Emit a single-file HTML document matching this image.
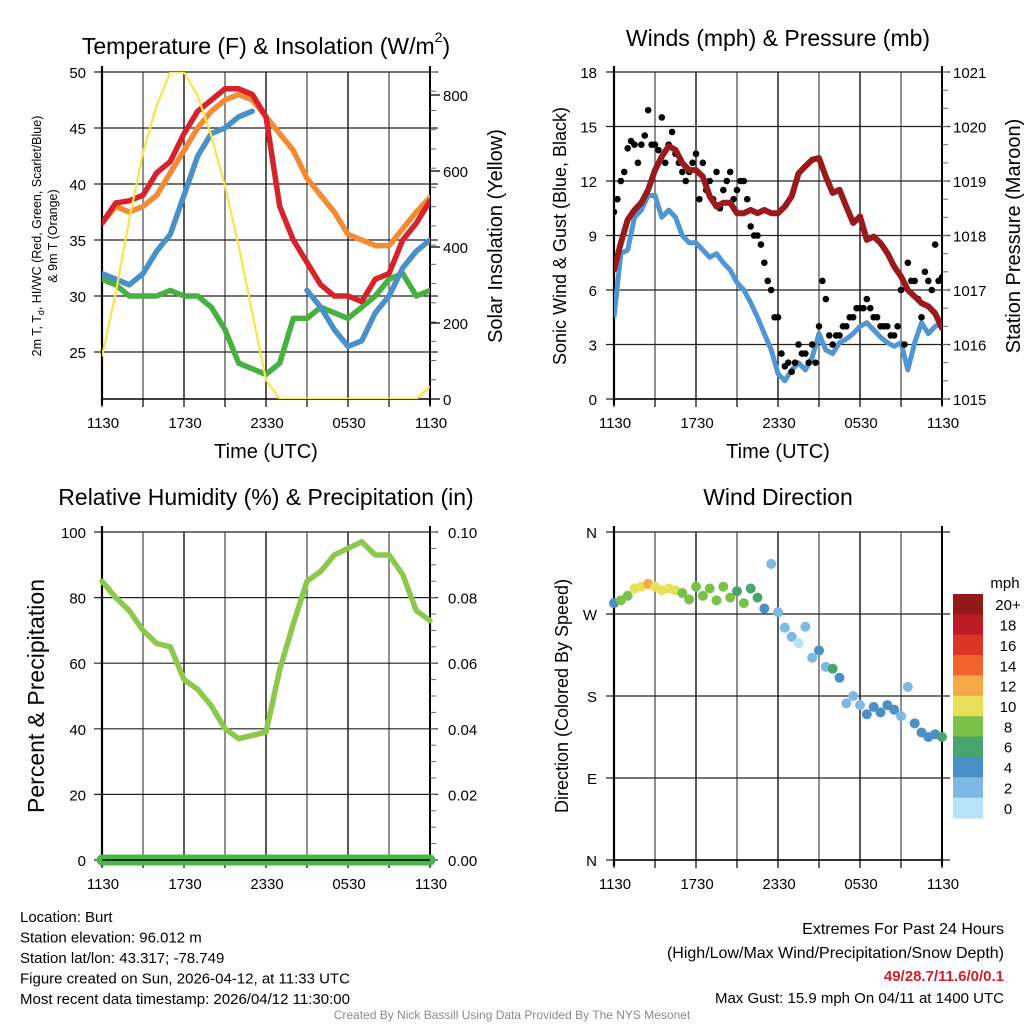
<!DOCTYPE html>
<html><head><meta charset="utf-8"><style>
html,body{margin:0;padding:0;background:#fff;}
svg{display:block;font-family:"Liberation Sans",sans-serif;}
</style></head><body>
<svg id="c" width="1024" height="1024" viewBox="0 0 1024 1024" xmlns="http://www.w3.org/2000/svg"></svg>
<script>
// ---------- data ----------
const hours = [0,1,2,3,4,5,6,7,8,9,10,11,12,13,14,15,16,17,18,19,20,21,22,23,24];
const xTickLabels = ["1130","1730","2330","0530","1130"];
const tempRed = [36.5,38.3,38.5,39,41,42,44.5,46.5,47.5,48.5,48.5,48,46,38,35,33,31,30,30,29.5,31.5,32,35,36.5,38.5];
const temp9mOrange = [36.5,38,37.5,38,39,41,43,45,46.5,47.5,48,47.5,46,44.5,43,40.5,39,37.5,35.5,35,34.5,34.5,36,37.5,38.8];
const windChillBlue = [32,31.5,31,32,34,35.5,39,42.5,44.5,45,46,46.5,null,null,null,30.5,29,27,25.5,26,28.5,30,32.5,34,35];
const dewGreen = [31.5,31,30,30,30,30.5,30,30,29,27,24,23.5,23,24,28,28,29,28.5,28,29,30,31.5,32,30,30.5];
const solar = [112,279,473,649,772,860,860,798,693,561,402,226,50,0,0,0,0,0,0,0,0,0,0,0,33];
const tempTicks = [25,30,35,40,45,50];
const solarTicks = [0,200,400,600,800];

const halfHours = [0,0.5,1,1.5,2,2.5,3,3.5,4,4.5,5,5.5,6,6.5,7,7.5,8,8.5,9,9.5,10,10.5,11,11.5,12,12.5,13,13.5,14,14.5,15,15.5,16,16.5,17,17.5,18,18.5,19,19.5,20,20.5,21,21.5,22,22.5,23,23.5,24];
const windSpeed = [4.5,8,8.2,10,10.4,11.2,11.2,10,10.4,10,9,8.6,8.6,8.2,7.8,8,7.5,7.1,6.4,6,5.3,4.5,3.6,2.7,1.4,1,1.6,2,1.6,2.3,3.6,2.7,2.5,3.1,3.3,3.6,4,4.2,3.8,3.4,3.1,2.9,3.1,1.6,3.1,4.2,3.6,4,4.2];
const pressure = [1017.37,1017.86,1018.29,1018.47,1018.6,1018.84,1019.2,1019.45,1019.64,1019.57,1019.33,1019.2,1019.2,1019.08,1018.72,1018.53,1018.6,1018.6,1018.41,1018.41,1018.47,1018.41,1018.47,1018.41,1018.41,1018.53,1018.72,1019.14,1019.27,1019.39,1019.42,1019.08,1018.78,1018.84,1018.53,1018.23,1018.35,1017.92,1017.98,1017.86,1017.68,1017.43,1017.25,1017.0,1016.88,1016.76,1016.7,1016.57,1016.3];
const gust = [10.3,11,12,12.5, 13.8,14.2,14,13, 14,14.5,15.9,14, 14,13.7,15.5,13, 14,14.7,13.5,13, 12.5,12,12.5,13, 13.5,11,13,11.5, 12,11,12.5,10.5, 11.5,12,12.5,11, 11.5,12,12,11, 9.5,9,9,8.5, 7.5,6.5,6,4.5, 4.5,2.5,1.8,2, 1.5,2,3,2.5, 2.5,2,3,2, 4,6.5,5.5,3.5, 3,3.5,3.5,4, 4,4.5,4.5,5, 5,5,5.5,5, 4.5,4.5,4,4, 4,3.5,3.5,4, 6,3,7.5,6.5, 6.5,5.5,4.5,7, 6.5,6,8.5,6.5, 6.7];
const windTicks = [0,3,6,9,12,15,18];
const pressTicks = [1015,1016,1017,1018,1019,1020,1021];

const rh = [85,80,76,70,66,65,55,52,47,40,37,38,39,58,72,85,88,93,95,97,93,93,87,76,73];
const rhTicks = [0,20,40,60,80,100];
const precipTicks = ["0.00","0.02","0.04","0.06","0.08","0.10"];
const precip = [0,0,0,0,0,0,0,0,0,0,0,0,0,0,0,0,0,0,0,0,0,0,0,0,0];

const dirDeg = [282,285,290,298,300,303,300,296,298,296,293,286,300,290,298,285,300,288,295,282,298,288,276,325,272,255,245,238,256,222,230,212,210,200,172,180,170,160,168,162,170,165,158,190,150,140,135,138,135];
const dirSpeed = [4,7,8,10,10,11,10,10,9,10,8,8,8,7,8,7,8,8,6,7,6,5,4,2,1,1,2,0,2,1,4,2,5,4,2,2,2,4,4,4,4,4,2,2,3,4,4,4,5];
const dirTicks = ["N","E","S","W","N"];
const speedLabels = ["0","2","4","6","8","10","12","14","16","18","20+"];
const speedColors = ["#b6e3f8","#7db9e4","#4a8fc6","#48a56e","#7ac14a","#e8e05a","#f7a846","#f0642c","#dd3428","#bd1c24","#92181a"];

// ---------- helpers ----------
const svg = document.getElementById('c');
const NS = "http://www.w3.org/2000/svg";
function mk(tag, attrs, parent){
  const e = document.createElementNS(NS, tag);
  for (const k in attrs) e.setAttribute(k, attrs[k]);
  (parent||svg).appendChild(e);
  return e;
}
function txt(s, x, y, size, anchor, parent, extra){
  const t = mk('text', Object.assign({x:x, y:y, 'font-size':size, 'text-anchor':anchor||'middle', fill:'#000'}, extra||{}), parent);
  t.textContent = s;
  return t;
}
function linFn(d0,d1,r0,r1){ return v => r0 + (v-d0)*(r1-r0)/(d1-d0); }
function pathOf(xs, ys, fx, fy){
  let d = "", pen = false;
  for (let i=0;i<xs.length;i++){
    if (ys[i]===null){ pen=false; continue; }
    d += (pen?"L":"M") + fx(xs[i]).toFixed(1) + "," + fy(ys[i]).toFixed(1);
    pen = true;
  }
  return d;
}
function frame(g, x0, y0, x1, y1, hLines){
  for (let i=1;i<8;i++){
    const x = x0 + i*(x1-x0)/8;
    const l = mk('line',{x1:x,y1:y0,x2:x,y2:y1,stroke:(i%2==0?'#000':'#555'),'stroke-width':1.3},g);
    
    
  }
  hLines.forEach(y=>{
    const l = mk('line',{x1:x0-8,y1:y,x2:x1+8,y2:y,stroke:'#222','stroke-width':1.2},g);
    
    
  });
  mk('line',{x1:x0,y1:y0-6,x2:x0,y2:y1+6,stroke:'#000','stroke-width':2.2},g);
  mk('line',{x1:x1,y1:y0-6,x2:x1,y2:y1+6,stroke:'#000','stroke-width':2},g);
  mk('line',{x1:x0,y1:y1,x2:x1,y2:y1,stroke:'#000','stroke-width':1.5},g);
  for (let i=0;i<=8;i++){
    const x = x0 + i*(x1-x0)/8;
    mk('line',{x1:x,y1:y1,x2:x,y2:y1+8,stroke:'#000','stroke-width':1.2},g);
  }
  for (let i=0;i<xTickLabels.length;i++){
    const t = txt(xTickLabels[i], x0 + i*(x1-x0)/4 + 1, y1+29, 15, 'middle', g);
    
    
  }
}
function minorRight(g, x1, y0, y1, n){
  for (let i=0;i<=n;i++){
    const y = y0 + i*(y1-y0)/n;
    mk('line',{x1:x1,y1:y,x2:x1+6,y2:y,stroke:'#666','stroke-width':1},g);
  }
}

// ---------- Panel 1 ----------
(function(){
  const g = mk('g',{});
  const X0=102,X1=430,Y0=72,Y1=399;
  const fx = linFn(0,24,X0,X1);
  const fy = linFn(25,50,352,72);
  const fs = linFn(0,800,399,95);
  const tt = mk('text',{x:266,y:54,'font-size':23,'text-anchor':'middle',fill:'#000'},g);
  
  
  const t1 = mk('tspan',{},tt); t1.textContent = "Temperature (F) & Insolation (W/m";
  const t2 = mk('tspan',{'font-size':14,dy:-12},tt); t2.textContent = "2";
  const t3 = mk('tspan',{dy:12},tt); t3.textContent = ")";
  frame(g,X0,Y0,X1,Y1,tempTicks.map(fy));
  minorRight(g,X1,Y0,Y1,17);
  tempTicks.forEach(v=>{ const t=txt(String(v),86,fy(v)+6,15,'end',g);   });
  solarTicks.forEach(v=>{ mk('line',{x1:X1,y1:fs(v),x2:X1+10,y2:fs(v),stroke:'#000','stroke-width':1.3},g); const t=txt(String(v),443,fs(v)+6,15,'start',g);   });
  const clip = mk('clipPath',{id:'cp1'},g); mk('rect',{x:X0,y:Y0,width:X1-X0,height:Y1-Y0},clip);
  const pg = mk('g',{'clip-path':'url(#cp1)'},g);
  const series = [[dewGreen,'#46b040','dewpoint-line'],[windChillBlue,'#4a90c8','wind-chill-line'],[temp9mOrange,'#f58a34','temp-9m-line'],[tempRed,'#d6222a','temp-2m-line']];
  series.forEach(s=>{
    const p = mk('path',{d:pathOf(hours,s[0],fx,fy),fill:'none',stroke:s[1],'stroke-width':5.5,'stroke-linejoin':'round','stroke-linecap':'round'},pg);
    
    
  });
  const sp = mk('path',{d:pathOf(hours,solar,fx,fs),fill:'none',stroke:'#fbe34c','stroke-width':2.2,'stroke-linejoin':'round'},pg);
  
  
  txt("Time (UTC)",266,458,20,'middle',g);
  const a = txt("Solar Insolation (Yellow)",0,0,20,'middle',g,{transform:'translate(502,236) rotate(-90)'});
  
  const b = txt("",0,0,12.5,'middle',g,{transform:'translate(41,236) rotate(-90)'});
  const s1 = mk('tspan',{},b); s1.textContent="2m T, T";
  const s2 = mk('tspan',{'font-size':9,dy:3},b); s2.textContent="d";
  const s3 = mk('tspan',{dy:-3},b); s3.textContent=", HI/WC (Red, Green, Scarlet/Blue)";
  
  txt("& 9m T (Orange)",0,0,12.5,'middle',g,{transform:'translate(57,236) rotate(-90)'});
})();

// ---------- Panel 2 ----------
(function(){
  const g = mk('g',{});
  const X0=614,X1=942,Y0=72,Y1=399;
  const fx = linFn(0,24,X0,X1);
  const fy = linFn(0,18,Y1,Y0);
  const fp = linFn(1015,1021,Y1,Y0);
  txt("Winds (mph) & Pressure (mb)",778,46,23,'middle',g);
  frame(g,X0,Y0,X1,Y1,windTicks.map(fy));
  minorRight(g,X1,Y0,Y1,18);
  windTicks.forEach(v=>{ const t=txt(String(v),597,fy(v)+6,15,'end',g);   });
  pressTicks.forEach(v=>{ const t=txt(String(v),953,fp(v)+6,15,'start',g);   });
  const clip = mk('clipPath',{id:'cp2'},g); mk('rect',{x:X0,y:Y0,width:X1-X0,height:Y1-Y0},clip);
  const pg = mk('g',{'clip-path':'url(#cp2)'},g);
  const wp = mk('path',{d:pathOf(halfHours,windSpeed,fx,fy),fill:'none',stroke:'#4f96d2','stroke-width':5,'stroke-linejoin':'round'},pg);
  
  
  gust.forEach((v,i)=>{
    const c = mk('circle',{cx:fx(i*0.25),cy:fy(v),r:3.3,fill:'#000'},pg);
    
    
  });
  const pp = mk('path',{d:pathOf(halfHours,pressure,fx,fp),fill:'none',stroke:'#9a1a1c','stroke-width':6,'stroke-linejoin':'round','stroke-linecap':'round'},pg);
  
  
  txt("Time (UTC)",778,458,20,'middle',g);
  txt("Sonic Wind & Gust (Blue, Black)",0,0,18,'middle',g,{transform:'translate(566,236) rotate(-90)'});
  txt("Station Pressure (Maroon)",0,0,20,'middle',g,{transform:'translate(1020,236) rotate(-90)'});
})();

// ---------- Panel 3 ----------
(function(){
  const g = mk('g',{});
  const X0=102,X1=430,Y0=532,Y1=860;
  const fx = linFn(0,24,X0,X1);
  const fy = linFn(0,100,Y1,Y0);
  const fpr = linFn(0,0.1,Y1,Y0);
  txt("Relative Humidity (%) & Precipitation (in)",266,505,23,'middle',g);
  frame(g,X0,Y0,X1,Y1,rhTicks.map(fy));
  minorRight(g,X1,Y0,Y1,20);
  rhTicks.forEach(v=>{ const t=txt(String(v),86,fy(v)+6,15,'end',g);   });
  precipTicks.forEach((s,i)=>{ const t=txt(s,448,fy(i*20)+6,15,'start',g);   });
  const rp = mk('path',{d:pathOf(hours,rh,fx,fy),fill:'none',stroke:'#8cc84b','stroke-width':5.5,'stroke-linejoin':'round','stroke-linecap':'round'},g);
  
  
  const pl = mk('path',{d:pathOf(hours,precip,fx,fpr),fill:'none',stroke:'#4ab548','stroke-width':11,'stroke-linecap':'round'},g);
  
  
  mk('line',{x1:X0,y1:Y1,x2:X1,y2:Y1,stroke:'#000','stroke-width':1.5},g);
  txt("Percent & Precipitation",0,0,23,'middle',g,{transform:'translate(44,696) rotate(-90)'});
})();

// ---------- Panel 4 ----------
(function(){
  const g = mk('g',{});
  const X0=614,X1=942,Y0=532,Y1=860;
  const fx = linFn(0,24,X0,X1);
  const fy = linFn(0,360,Y1,Y0);
  txt("Wind Direction",778,505,23,'middle',g);
  frame(g,X0,Y0,X1,Y1,[0,90,180,270,360].map(fy));
  dirTicks.forEach((s,i)=>{ const t=txt(s,597,fy(i*90)+6,15,'end',g);   });
  dirDeg.forEach((d,i)=>{
    const idx = Math.min(10, Math.floor((dirSpeed[i]+1)/2));
    const c = mk('circle',{cx:fx(halfHours[i]),cy:fy(d),r:5,fill:speedColors[idx]},g);
    
    
  });
  txt("Direction (Colored By Speed)",0,0,18,'middle',g,{transform:'translate(568,696) rotate(-90)'});
  const lg = mk('g',{},g);
  txt("mph",1005,588,15,'middle',lg);
  const bh = (818-594)/11;
  for (let k=0;k<11;k++){
    const i = 10-k;
    const r = mk('rect',{x:953,y:594+k*bh,width:30,height:bh+0.5,fill:speedColors[i]},lg);
    
    
    txt(speedLabels[i],1008,594+k*bh+bh/2+6,15,'middle',lg);
  }
})();

// ---------- footer ----------
(function(){
  const g = mk('g',{});
  const lines = ["Location: Burt","Station elevation: 96.012 m","Station lat/lon: 43.317; -78.749","Figure created on Sun, 2026-04-12, at 11:33 UTC","Most recent data timestamp: 2026/04/12 11:30:00"];
  lines.forEach((s,i)=>{ txt(s,20,922+i*20.5,15,'start',g); });
  const r = mk('g',{});
  txt("Extremes For Past 24 Hours",1004,934,16,'end',r);
  txt("(High/Low/Max Wind/Precipitation/Snow Depth)",1004,958,16,'end',r);
  txt("49/28.7/11.6/0/0.1",1004,981,15,'end',r,{fill:'#d0202a','font-weight':'bold'});
  txt("Max Gust: 15.9 mph On 04/11 at 1400 UTC",1004,1003,15,'end',r);
  txt("Created By Nick Bassill Using Data Provided By The NYS Mesonet",512,1019,12,'middle',svg,{fill:'#8a8a8a'});
})();
</script>
</body></html>
